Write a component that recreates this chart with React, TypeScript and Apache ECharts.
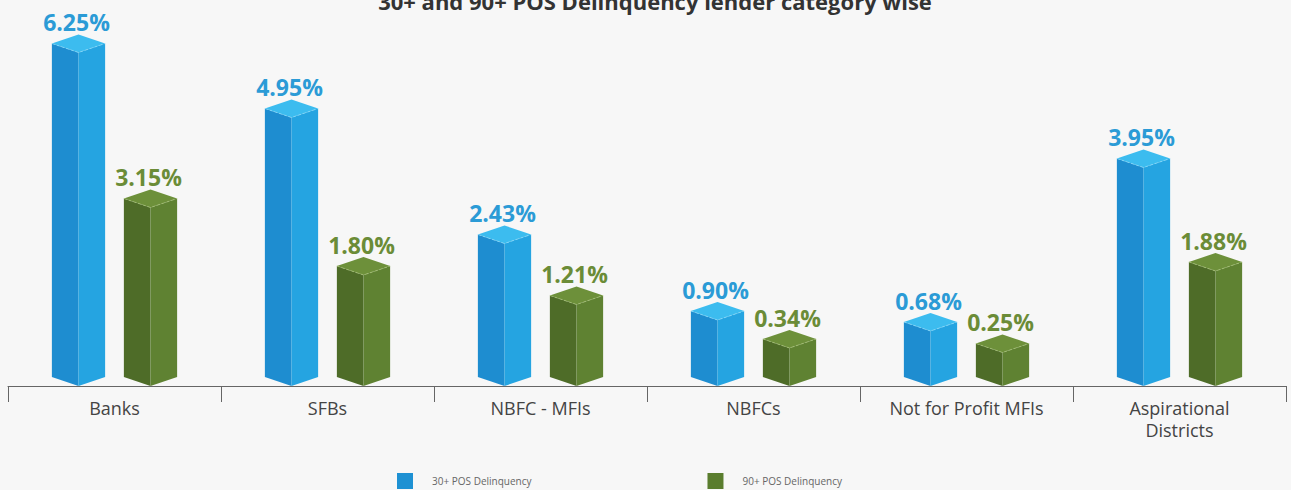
import React, { useEffect, useRef } from "react";
import * as echarts from "echarts";

const categories = ["Banks", "SFBs", "NBFC - MFIs", "NBFCs", "Not for Profit MFIs", "Aspirational Districts"];
const pos30 = [6.25, 4.95, 2.43, 0.9, 0.68, 3.95];
const pos90 = [3.15, 1.8, 1.21, 0.34, 0.25, 1.88];
const seriesNames = ["30+ POS Delinquency", "90+ POS Delinquency"];
const chartTitle = "30+ and 90+ POS Delinquency lender category wise";

const Y_MIN = -0.6;
const Y_MAX = 6.7;

const palettes = [
  { left: "#1e8dd0", right: "#25a4e1", top: "#3cbcef", edge: "#8fdcfa", label: "#2b9bd6" },
  { left: "#4e6c28", right: "#5f8232", top: "#6d903a", edge: "#a9c47a", label: "#6b8c37" },
];

function makeRender(side: number) {
  const pal = palettes[side];
  const dir = side === 0 ? -1 : 1;
  return (params: any, api: any) => {
    const i = api.value(0);
    const v = api.value(1);
    const top = api.coord([i, v]);
    const base = api.coord([i, Y_MIN]);
    const band = api.size([1, 0])[0];
    const cx = top[0] + dir * band * 0.169;
    const topY = top[1];
    const baseY = base[1];
    const w = band * 0.125;
    const d = 9;
    return {
      type: "group",
      children: [
        {
          type: "polygon",
          shape: { points: [[cx - w, topY], [cx, topY + d], [cx, baseY], [cx - w, baseY - d]] },
          style: { fill: pal.left },
        },
        {
          type: "polygon",
          shape: { points: [[cx, topY + d], [cx + w, topY], [cx + w, baseY - d], [cx, baseY]] },
          style: { fill: pal.right },
        },
        {
          type: "polygon",
          shape: { points: [[cx - w, topY], [cx, topY - d], [cx + w, topY], [cx, topY + d]] },
          style: { fill: pal.top },
        },
        {
          type: "polyline",
          shape: { points: [[cx - w, topY], [cx, topY + d], [cx + w, topY]] },
          style: { stroke: pal.edge, lineWidth: 1, lineDash: [3, 2], fill: null, opacity: 0.7 },
        },
        {
          type: "text",
          x: cx - 2,
          y: topY - d - 1,
          style: {
            text: v.toFixed(2) + "%",
            fill: pal.label,
            font: 'bold 23px "Open Sans", sans-serif',
            align: "center",
            verticalAlign: "bottom",
          },
        },
      ],
    };
  };
}

export default function App() {
  const ref = useRef<HTMLDivElement>(null);
  useEffect(() => {
    if (!ref.current) return;
    const chart = echarts.init(ref.current, undefined, { renderer: "svg" });
    chart.setOption({
      animation: false,
      backgroundColor: "#f7f7f7",
      grid: { left: 8, right: 5, top: 21, bottom: 104, containLabel: false },
      xAxis: {
        type: "category",
        data: categories,
        boundaryGap: true,
        axisLine: { show: true, onZero: false, lineStyle: { color: "#666", width: 1 } },
        axisTick: { show: true, alignWithLabel: false, interval: 0, length: 16, lineStyle: { color: "#666", width: 1 } },
        axisLabel: {
          margin: 11,
          color: "#444",
          fontSize: 18,
          fontFamily: '"Open Sans", sans-serif',
          lineHeight: 22,
          interval: 0,
          formatter: (v: string) => (v === "Aspirational Districts" ? "Aspirational\nDistricts" : v),
        },
      },
      yAxis: {
        type: "value",
        min: Y_MIN,
        max: Y_MAX,
        show: false,
        splitLine: { show: false },
      },
      legend: {
        left: 392,
        top: 468,
        itemWidth: 16,
        itemHeight: 16,
        itemGap: 176,
        icon: "rect",
        data: seriesNames,
        textStyle: {
          fontSize: 10,
          color: "#666",
          fontFamily: '"Open Sans", sans-serif',
          padding: [0, 0, 0, 14],
        },
      },
      graphic: [
        {
          type: "text",
          x: 655,
          y: 1,
          style: {
            text: chartTitle,
            fill: "#333",
            font: 'bold 22px "Open Sans", sans-serif',
            align: "center",
            verticalAlign: "middle",
          },
        },
      ],
      series: [
        {
          name: seriesNames[0],
          type: "custom",
          renderItem: makeRender(0),
          itemStyle: { color: "#1e91d3" },
          encode: { x: 0, y: 1 },
          data: pos30.map((v, i) => [i, v]),
        },
        {
          name: seriesNames[1],
          type: "custom",
          renderItem: makeRender(1),
          itemStyle: { color: "#5a7d2e" },
          encode: { x: 0, y: 1 },
          data: pos90.map((v, i) => [i, v]),
        },
      ],
    });
    return () => chart.dispose();
  }, []);
  return <div ref={ref} style={{ position: "absolute", left: 0, top: 0, width: 1291, height: 490 }} />;
}
